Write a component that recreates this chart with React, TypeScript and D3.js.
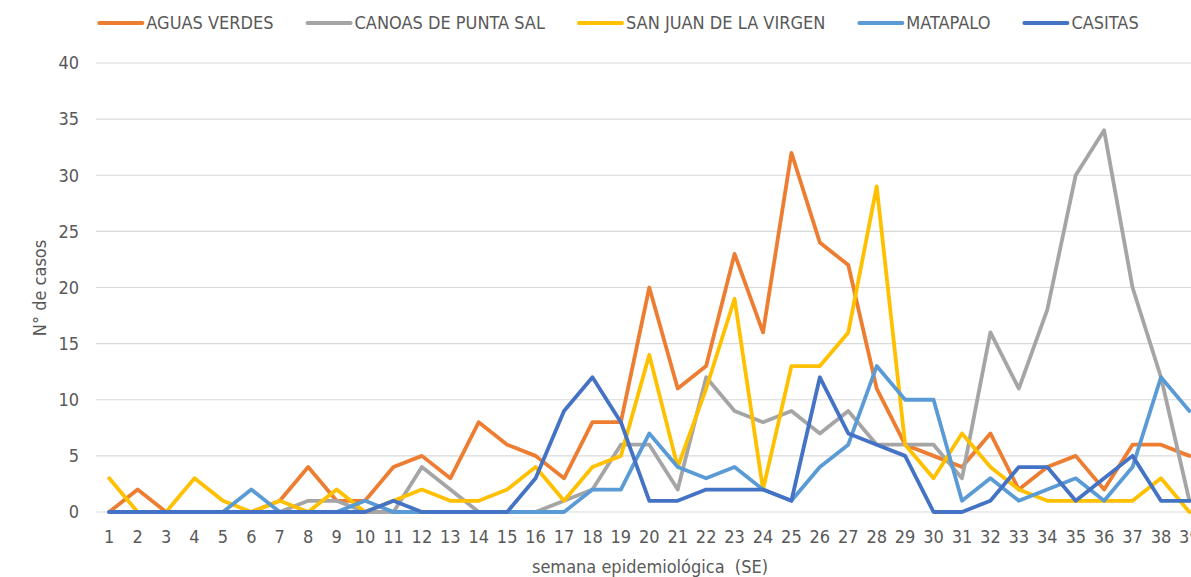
import React, { useRef, useEffect } from "react";
import * as d3 from "d3";

// epidemiological weeks 1..39
const weeks = d3.range(1, 40);

const seriesNames = [
  "AGUAS VERDES",
  "CANOAS DE PUNTA SAL",
  "SAN JUAN DE LA VIRGEN",
  "MATAPALO",
  "CASITAS",
];
const seriesColors = ["#ED7D31", "#A5A5A5", "#FFC000", "#5B9BD5", "#4472C4"];

const aguasVerdes = [0, 2, 0, 0, 0, 0, 1, 4, 1, 1, 4, 5, 3, 8, 6, 5, 3, 8, 8, 20, 11, 13, 23, 16, 32, 24, 22, 11, 6, 5, 4, 7, 2, 4, 5, 2, 6, 6, 5];
const canoas = [0, 0, 0, 0, 0, 0, 0, 1, 1, 0, 0, 4, 2, 0, 0, 0, 1, 2, 6, 6, 2, 12, 9, 8, 9, 7, 9, 6, 6, 6, 3, 16, 11, 18, 30, 34, 20, 12, 1];
const sanJuan = [3, 0, 0, 3, 1, 0, 1, 0, 2, 0, 1, 2, 1, 1, 2, 4, 1, 4, 5, 14, 4, 11, 19, 2, 13, 13, 16, 29, 6, 3, 7, 4, 2, 1, 1, 1, 1, 3, 0];
const matapalo = [0, 0, 0, 0, 0, 2, 0, 0, 0, 1, 0, 0, 0, 0, 0, 0, 0, 2, 2, 7, 4, 3, 4, 2, 1, 4, 6, 13, 10, 10, 1, 3, 1, 2, 3, 1, 4, 12, 9];
const casitas = [0, 0, 0, 0, 0, 0, 0, 0, 0, 0, 1, 0, 0, 0, 0, 3, 9, 12, 8, 1, 1, 2, 2, 2, 1, 12, 7, 6, 5, 0, 0, 1, 4, 4, 1, 3, 5, 1, 1];

const yTicks = [0, 5, 10, 15, 20, 25, 30, 35, 40];

const W = 1191;
const H = 577;
const FONT = "'Liberation Sans Narrow', 'DejaVu Sans Condensed', Arial, sans-serif";

export default function App() {
  const svgRef = useRef<SVGSVGElement>(null);

  useEffect(() => {
    const svg = d3.select(svgRef.current);
    svg.selectAll("*").remove();

    const values = [aguasVerdes, canoas, sanJuan, matapalo, casitas];

    // plot area runs past the right border of the picture, as in the source
    const x = d3.scalePoint<number>().domain(weeks).range([95, 1203.6]).padding(0.5);
    const y = d3.scaleLinear().domain([0, 40]).range([512, 63]);

    svg.append("rect").attr("width", W).attr("height", H).attr("fill", "#fff");

    // gridlines
    svg
      .append("g")
      .selectAll("line")
      .data(yTicks)
      .join("line")
      .attr("x1", 96)
      .attr("x2", W)
      .attr("y1", (d) => y(d))
      .attr("y2", (d) => y(d))
      .attr("stroke", "#d9d9d9")
      .attr("stroke-width", 1.2);

    // y labels
    svg
      .append("g")
      .selectAll("text")
      .data(yTicks)
      .join("text")
      .attr("x", 79)
      .attr("y", (d) => y(d))
      .attr("dy", "0.35em")
      .attr("text-anchor", "end")
      .attr("fill", "#595959")
      .style("font-size", "18px")
      .text((d) => d);

    // x labels (the last one is clipped by the edge, like the source)
    svg
      .append("g")
      .selectAll("text")
      .data(weeks)
      .join("text")
      .attr("x", (d) => x(d)!)
      .attr("y", 537)
      .attr("dy", "0.35em")
      .attr("text-anchor", "middle")
      .attr("fill", "#595959")
      .style("font-size", "18px")
      .text((d) => d);

    // axis titles
    svg
      .append("text")
      .attr("x", 650)
      .attr("y", 567)
      .attr("dy", "0.35em")
      .attr("text-anchor", "middle")
      .attr("fill", "#595959")
      .style("font-size", "18px")
      .style("white-space", "pre")
      .text("semana epidemiológica  (SE)");

    svg
      .append("text")
      .attr("transform", "translate(40,288) rotate(-90)")
      .attr("dy", "0.35em")
      .attr("text-anchor", "middle")
      .attr("fill", "#595959")
      .style("font-size", "18px")
      .text("N° de casos");

    // lines
    const line = d3
      .line<number>()
      .x((_, i) => x(weeks[i])!)
      .y((d) => y(d))
      .curve(d3.curveLinear);

    svg
      .append("g")
      .selectAll("path")
      .data(values)
      .join("path")
      .attr("d", (d) => line(d))
      .attr("fill", "none")
      .attr("stroke", (_, i) => seriesColors[i])
      .attr("stroke-width", 3.8)
      .attr("stroke-linejoin", "round")
      .attr("stroke-linecap", "round");

    // legend, laid out from measured text widths and centred above the plot
    const legend = svg.append("g");
    const items = seriesNames.map((name, i) => {
      const g = legend.append("g");
      g.append("line")
        .attr("x1", 0)
        .attr("x2", 43)
        .attr("y1", 23)
        .attr("y2", 23)
        .attr("stroke", seriesColors[i])
        .attr("stroke-width", 4)
        .attr("stroke-linecap", "round");
      const t = g
        .append("text")
        .attr("x", 47)
        .attr("y", 23)
        .attr("dy", "0.35em")
        .attr("fill", "#595959")
        .style("font-size", "18px")
        .text(name);
      const w = (t.node() as SVGTextElement).getComputedTextLength();
      return { g, width: 47 + w };
    });
    const gap = 34;
    const total = d3.sum(items, (d) => d.width) + gap * (items.length - 1);
    let cx = 619 - total / 2;
    items.forEach((it) => {
      it.g.attr("transform", `translate(${cx},0)`);
      cx += it.width + gap;
    });
  }, []);

  return (
    <svg
      ref={svgRef}
      width={W}
      height={H}
      style={{ position: "fixed", left: 0, top: 0, fontFamily: FONT }}
    />
  );
}
